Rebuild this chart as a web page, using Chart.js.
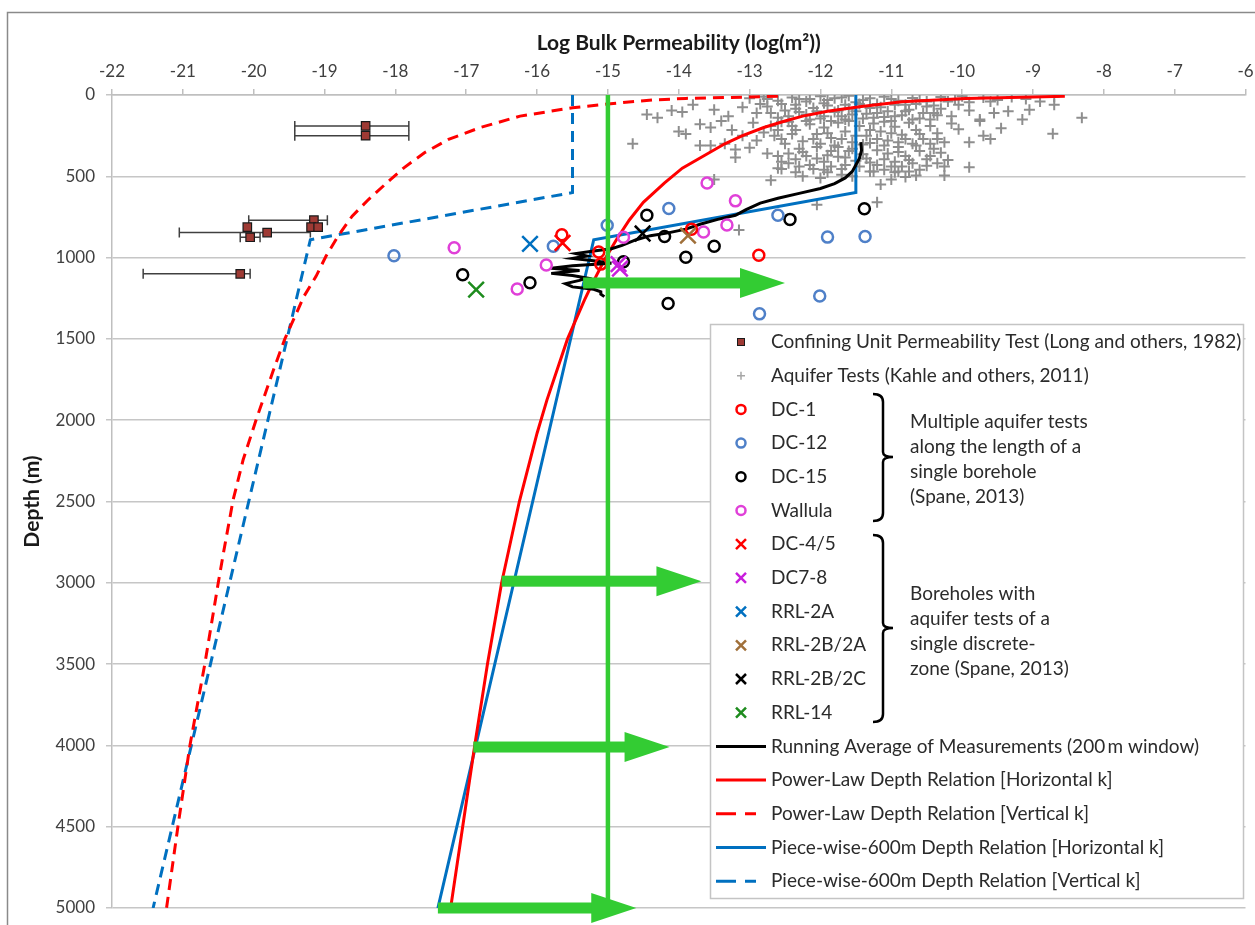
<!DOCTYPE html>
<html>
<head>
<meta charset="utf-8">
<script src="https://cdn.jsdelivr.net/npm/chart.js@4.4.1/dist/chart.umd.min.js"></script>
<style>
  html, body { margin: 0; padding: 0; background: #fff; overflow: hidden; }
  #wrap { width: 1259px; height: 925px; position: relative; }
</style>
</head>
<body>
<div id="wrap"><canvas id="c"></canvas></div>
<script>
// axis ticks
const xTicks = [-22, -21, -20, -19, -18, -17, -16, -15, -14, -13, -12, -11, -10, -9, -8, -7, -6];
const yTicks = [0, 500, 1000, 1500, 2000, 2500, 3000, 3500, 4000, 4500, 5000];

// confining unit tests: log k, depth, error bar range (null = none)
const confiningK     = [-18.42, -18.42, -19.15, -19.19, -19.09, -20.09, -19.81, -20.05, -20.19];
const confiningDepth = [190, 250, 770, 813, 813, 813, 846, 875, 1100];
const confiningLow   = [-19.42, -19.42, -20.07, null, null, null, -21.05, -20.19, -21.56];
const confiningHigh  = [-17.81, -17.81, -18.96, null, null, null, -19.2, -19.91, -20.05];

// aquifer tests (Kahle), [log k, depth]
const aquiferTests = [
  [-13.0,20],[-12.8,10],[-12.6,35],[-12.4,15],[-12.2,40],[-12.0,8],[-11.9,30],[-11.7,15],[-11.5,45],[-11.3,20],
  [-11.1,10],[-10.9,35],[-10.7,18],[-10.5,40],[-10.3,12],[-10.1,28],[-9.9,45],[-9.7,15],[-9.5,30],[-9.3,12],
  [-9.1,25],[-8.9,40],[-8.7,10],[-11.6,5],[-12.3,25],[-10.0,8],[-9.6,40],
  [-14.45,120],[-14.3,140],[-14.1,95],[-13.95,105],[-13.8,60],[-13.5,90],[-13.3,130],[-13.1,75],[-12.9,110],[-12.75,70],
  [-12.6,140],[-12.5,95],[-12.35,60],[-12.2,120],[-12.1,80],[-12.0,145],[-11.9,65],[-11.8,105],[-11.7,130],[-11.6,85],
  [-11.45,55],[-11.35,115],[-11.25,140],[-11.15,75],[-11.05,100],[-10.95,60],[-10.85,125],[-10.75,90],[-10.6,145],[-10.5,70],
  [-10.4,110],[-10.3,85],[-10.15,130],[-10.05,60],[-9.9,95],[-9.75,150],[-9.55,110],[-9.35,100],[-9.15,150],[-9.05,90],
  [-8.7,60],[-8.31,140],[-12.45,130],[-11.55,120],[-11.1,135],[-12.85,55],[-10.65,55],
  [-14.0,225],[-13.9,240],[-13.7,180],[-13.55,200],[-13.4,160],[-13.25,215],[-13.1,250],[-12.95,170],[-12.8,230],[-12.7,190],
  [-12.55,270],[-12.45,165],[-12.35,215],[-12.25,285],[-12.15,180],[-12.05,240],[-11.95,200],[-11.85,265],[-11.75,170],[-11.65,225],
  [-11.55,290],[-11.45,190],[-11.35,250],[-11.25,175],[-11.15,225],[-11.05,280],[-10.95,195],[-10.85,245],[-10.75,170],[-10.65,215],
  [-10.55,270],[-10.45,190],[-10.35,235],[-10.25,290],[-10.15,175],[-10.05,210],[-9.9,290],[-9.75,160],[-9.7,250],[-9.6,270],
  [-9.45,205],[-8.72,238],[-12.9,280],[-11.6,160],[-11.0,160],[-12.2,160],[-10.9,290],[-11.3,295],[-12.6,215],
  [-14.65,300],[-13.7,310],[-13.55,310],[-13.35,300],[-13.2,335],[-13.0,325],[-13.2,385],[-12.75,360],[-12.6,375],[-12.45,360],
  [-12.35,395],[-12.2,375],[-12.05,320],[-11.95,410],[-11.85,345],[-11.75,380],[-11.65,430],[-11.55,330],[-11.4,365],[-11.3,415],
  [-11.2,340],[-11.1,395],[-11.0,440],[-10.9,320],[-10.8,375],[-10.7,420],[-10.6,345],[-10.5,395],[-10.4,330],[-10.3,355],
  [-10.2,400],[-10.25,440],[-10.5,435],[-11.75,320],[-12.15,430],[-11.45,440],[-10.95,410],[-10.65,310],[-11.9,370],[-12.55,410],
  [-12.55,455],[-12.35,475],[-12.1,455],[-11.9,475],[-11.7,455],[-12.7,525],[-13.5,520],[-12.05,675],[-11.2,660],[-11.15,550],
  [-11.3,470],[-10.95,475],[-10.8,505],[-10.65,495],[-10.25,495],[-9.9,445],[-11.0,520],[-10.75,470],[-12.25,500],[-11.55,500],
  [-13.15,830],[-11.1,460],[-12.0,510],
  [-12.75,25],[-12.55,55],[-12.35,85],[-12.15,25],[-11.95,50],[-11.8,20],[-11.65,60],[-11.4,30],[-11.2,55],[-11.0,25],
  [-10.8,60],[-10.6,30],[-10.4,65],[-10.2,40],[-12.7,110],[-12.55,165],[-12.4,190],[-12.3,105],[-12.15,150],[-12.05,100],
  [-11.95,130],[-11.85,160],[-11.75,95],[-11.65,150],[-11.5,100],[-11.4,145],[-11.3,80],[-11.2,110],[-11.1,165],[-10.95,130],
  [-10.8,100],[-10.7,150],[-10.55,110],[-10.45,150],[-10.35,125],[-12.65,250],[-12.5,300],[-12.4,240],[-12.3,330],[-12.1,270],
  [-12.0,300],[-11.9,235],[-11.8,310],[-11.7,270],[-11.6,345],[-11.5,250],[-11.4,305],[-11.3,215],[-11.2,270],[-11.1,310],
  [-11.0,235],[-10.9,350],[-10.8,270],[-10.7,300],[-10.6,240],[-10.45,300],[-10.35,270],[-12.45,420],[-12.3,440],[-12.05,390],
  [-11.85,440],[-11.65,385],[-11.5,405],[-11.35,390],[-11.2,430],[-11.05,360],[-10.85,440],[-10.75,400],[-10.6,460],[-10.45,375],
  [-10.35,420],[-12.25,350],[-11.95,460],[-11.25,470],[-10.9,470],[-11.7,490],[-12.6,450]
];

// Spane (2013) boreholes, [log k, depth]
const dc1     = [[-15.65,860],[-15.13,965],[-15.1,1040],[-13.82,825],[-12.87,985]];
const dc12    = [[-18.02,988],[-15.77,930],[-15.01,801],[-14.14,698],[-12.6,739],[-11.9,874],[-11.37,870],[-12.01,1236],[-12.86,1346]];
const dc15    = [[-17.05,1105],[-16.1,1155],[-14.45,740],[-12.43,765],[-11.38,700],[-13.5,930],[-13.9,998],[-14.15,1282],[-14.78,1025],[-14.2,870]];
const wallula = [[-17.17,940],[-15.87,1045],[-16.28,1193],[-13.6,541],[-13.2,651],[-13.32,800],[-13.65,843],[-14.78,875]];
const dc45    = [[-15.64,910]];
const dc78    = [[-14.85,1040],[-14.83,1068]];
const rrl2a   = [[-16.1,916]];
const rrl2b2a = [[-13.87,865]];
const rrl2b2c = [[-14.51,852]];
const rrl14   = [[-16.86,1197]];

// running average (200 m window)
const runningAvg = [
  [-11.43,290],[-11.42,340],[-11.45,390],[-11.5,430],[-11.55,470],[-11.65,510],[-11.8,545],[-12.0,575],[-12.3,605],[-12.6,635],
  [-12.85,665],[-13.05,705],[-13.2,740],[-13.45,765],[-13.7,795],[-13.9,825],[-14.15,848],[-14.4,865],[-14.6,890],[-14.8,925],
  [-14.95,945],[-15.2,960],[-15.45,975],[-15.3,990],[-15.5,1005],[-15.2,1020],[-14.95,1035],[-15.5,1050],[-15.8,1065],[-15.4,1080],
  [-15.8,1097],[-15.5,1110],[-15.3,1125],[-15.4,1140],[-15.6,1160],[-15.5,1180],[-15.2,1195],[-15.1,1210],[-15.1,1225],[-15.05,1240]
];

// depth relations
const powerLawH = [
  [-8.55,8],[-9.0,12],[-9.95,21],[-10.85,41],[-11.45,72],[-11.9,100],[-12.25,130],[-12.5,160],[-12.8,200],[-13.1,250],
  [-13.35,300],[-13.65,375],[-13.95,450],[-14.2,540],[-14.5,660],[-14.7,770],[-14.88,890],[-15.05,1015],[-15.22,1160],[-15.33,1260],
  [-15.57,1500],[-15.86,1875],[-16.0,2080],[-16.25,2500],[-16.4,2800],[-16.5,3000],[-16.7,3500],[-16.88,4000],[-17.05,4500],[-17.22,5000]
];
const powerLawV = [
  [-12.6,8],[-13.0,12],[-13.9,21],[-14.35,30],[-14.8,47],[-15.5,78],[-16.24,130],[-16.8,200],[-17.25,273],[-17.59,355],
  [-17.88,448],[-18.07,520],[-18.38,643],[-18.61,745],[-18.81,869],[-18.98,992],[-19.12,1115],[-19.29,1238],[-19.56,1500],[-19.72,1690],
  [-19.96,1990],[-20.15,2245],[-20.29,2490],[-20.42,2800],[-20.5,3000],[-20.69,3500],[-20.9,4000],[-21.07,4500],[-21.23,5000]
];
const pieceWiseH = [[-11.5,0],[-11.5,600],[-15.2,890],[-17.4,5000]];
const pieceWiseV = [[-15.5,0],[-15.5,600],[-19.2,890],[-21.42,5000]];

// green guide line and arrows
const guideK = -15;
const arrowDepth = [1156, 2990, 4010, 5000];
const arrowFrom  = [-15.35, -16.5, -16.9, -17.4];
const arrowTo    = [-12.5, -13.68, -14.13, -14.6];

const FONT = 'Lato';
const GREEN = '#33CC33';
const pts = a => a.map(p => ({ x: p[0], y: p[1] }));

function marker(label, data, style, color, order, kind) {
  const ring = style === 'circle';
  return {
    label, data: pts(data), order, legendKind: kind,
    pointStyle: style,
    pointRadius: ring ? 5.5 : 11,
    borderWidth: 2.5,
    borderColor: color,
    backgroundColor: ring ? 'rgba(0,0,0,0)' : color
  };
}
function curve(label, data, color, dash, order) {
  return {
    label, data: pts(data), order, legendKind: 'line',
    showLine: true, pointRadius: 0, borderColor: color, backgroundColor: color,
    borderWidth: 3, borderDash: dash, tension: 0
  };
}

const datasets = [
  {
    label: 'Confining Unit Permeability Test (Long and others, 1982)',
    data: confiningK.map((k, i) => ({ x: k, y: confiningDepth[i] })),
    order: 5, legendKind: 'rect', pointStyle: 'rect', pointRadius: 6,
    backgroundColor: '#9E3A34', borderColor: '#1a1a1a', borderWidth: 1.2
  },
  {
    label: 'Aquifer Tests (Kahle and others, 2011)', data: pts(aquiferTests),
    order: 9, legendKind: 'plus', pointStyle: 'cross', pointRadius: 5.5,
    borderColor: '#8E8E8E', backgroundColor: '#8E8E8E', borderWidth: 2
  },
  marker('DC-1', dc1, 'circle', '#FF0000', 3, 'circle'),
  marker('DC-12', dc12, 'circle', '#4F80C8', 3, 'circle'),
  marker('DC-15', dc15, 'circle', '#000000', 3, 'circle'),
  marker('Wallula', wallula, 'circle', '#E040D8', 3, 'circle'),
  marker('DC-4/5', dc45, 'crossRot', '#FF0000', 2, 'x'),
  marker('DC7-8', dc78, 'crossRot', '#C81EDC', 2, 'x'),
  marker('RRL-2A', rrl2a, 'crossRot', '#0070C0', 2, 'x'),
  marker('RRL-2B/2A', rrl2b2a, 'crossRot', '#A0703A', 2, 'x'),
  marker('RRL-2B/2C', rrl2b2c, 'crossRot', '#000000', 2, 'x'),
  marker('RRL-14', rrl14, 'crossRot', '#1E8C1E', 2, 'x'),
  curve('Running Average of Measurements (200\u2009m window)', runningAvg, '#000000', [], 6),
  curve('Power-Law Depth Relation [Horizontal k]', powerLawH, '#FF0000', [], 7),
  curve('Power-Law Depth Relation [Vertical k]', powerLawV, '#FF0000', [11, 7], 8),
  curve('Piece-wise-600m Depth Relation [Horizontal k]', pieceWiseH, '#0070C0', [], 7),
  curve('Piece-wise-600m Depth Relation [Vertical k]', pieceWiseV, '#0070C0', [11, 7], 8),
  {
    label: 'guide', data: [{ x: guideK, y: 0 }, { x: guideK, y: 5000 }], order: 1,
    showLine: true, pointRadius: 0, borderColor: GREEN, borderWidth: 4.5
  }
];

// outer frame
const framePlugin = {
  id: 'frame',
  beforeDraw(chart) {
    const ctx = chart.ctx;
    ctx.save();
    ctx.strokeStyle = '#8a8a8a';
    ctx.lineWidth = 1.5;
    ctx.strokeRect(7.5, 12.5, 1270, 930);
    ctx.restore();
  }
};

// horizontal error bars on confining unit tests
const errorBarPlugin = {
  id: 'errorBars',
  beforeDatasetsDraw(chart) {
    const { ctx, scales: { x, y } } = chart;
    ctx.save();
    ctx.strokeStyle = '#404040';
    ctx.lineWidth = 1.5;
    confiningK.forEach((k, i) => {
      if (confiningLow[i] === null) return;
      const py = y.getPixelForValue(confiningDepth[i]);
      const x0 = x.getPixelForValue(confiningLow[i]);
      const x1 = x.getPixelForValue(confiningHigh[i]);
      ctx.beginPath();
      ctx.moveTo(x0, py); ctx.lineTo(x1, py);
      ctx.moveTo(x0, py - 5); ctx.lineTo(x0, py + 5);
      ctx.moveTo(x1, py - 5); ctx.lineTo(x1, py + 5);
      ctx.stroke();
    });
    ctx.restore();
  }
};

// green arrows
const arrowPlugin = {
  id: 'arrows',
  afterDatasetsDraw(chart) {
    const { ctx, scales: { x, y } } = chart;
    ctx.save();
    ctx.fillStyle = GREEN;
    arrowDepth.forEach((d, i) => {
      const py = y.getPixelForValue(d);
      const x0 = x.getPixelForValue(arrowFrom[i]);
      const x1 = x.getPixelForValue(arrowTo[i]);
      const head = 45;
      ctx.fillRect(x0, py - 5.5, x1 - head - x0 + 1, 11);
      ctx.beginPath();
      ctx.moveTo(x1 - head, py - 15);
      ctx.lineTo(x1, py);
      ctx.lineTo(x1 - head, py + 15);
      ctx.closePath();
      ctx.fill();
    });
    ctx.restore();
  }
};

function drawKey(ctx, ds, cx, cy) {
  ctx.save();
  ctx.strokeStyle = ds.borderColor;
  ctx.fillStyle = ds.backgroundColor;
  switch (ds.legendKind) {
    case 'rect':
      ctx.fillRect(cx - 3.5, cy - 3.5, 7, 7);
      ctx.lineWidth = 1; ctx.strokeRect(cx - 3.5, cy - 3.5, 7, 7);
      break;
    case 'plus':
      ctx.strokeStyle = '#A6A6A6'; ctx.lineWidth = 1.5;
      ctx.beginPath(); ctx.moveTo(cx - 4, cy); ctx.lineTo(cx + 4, cy);
      ctx.moveTo(cx, cy - 4); ctx.lineTo(cx, cy + 4); ctx.stroke();
      break;
    case 'circle':
      ctx.lineWidth = 2.5;
      ctx.beginPath(); ctx.arc(cx, cy, 4.5, 0, Math.PI * 2); ctx.stroke();
      break;
    case 'x':
      ctx.lineWidth = 2.5;
      ctx.beginPath(); ctx.moveTo(cx - 5, cy - 5); ctx.lineTo(cx + 5, cy + 5);
      ctx.moveTo(cx + 5, cy - 5); ctx.lineTo(cx - 5, cy + 5); ctx.stroke();
      break;
    case 'line':
      ctx.lineWidth = 3;
      if (ds.borderDash && ds.borderDash.length) {
        ctx.setLineDash([20, 9]);
        ctx.beginPath(); ctx.moveTo(716, cy); ctx.lineTo(756, cy); ctx.stroke();
      } else {
        ctx.beginPath(); ctx.moveTo(716, cy); ctx.lineTo(766, cy); ctx.stroke();
      }
      break;
  }
  ctx.restore();
}

function drawBrace(ctx, top, bottom, tip) {
  const x0 = 873, xm = 883, xt = 893;
  ctx.beginPath();
  ctx.moveTo(x0, top);
  ctx.quadraticCurveTo(xm, top, xm, top + 8);
  ctx.lineTo(xm, tip - 5);
  ctx.quadraticCurveTo(xm, tip, xt, tip);
  ctx.quadraticCurveTo(xm, tip, xm, tip + 5);
  ctx.lineTo(xm, bottom - 8);
  ctx.quadraticCurveTo(xm, bottom, x0, bottom);
  ctx.stroke();
}

const noteSingle = ['Multiple aquifer tests', 'along the length of a', 'single borehole', '(Spane, 2013)'];
const noteDiscrete = ['Boreholes with', 'aquifer tests of a', 'single discrete-', 'zone (Spane, 2013)'];

const legendPlugin = {
  id: 'sideLegend',
  afterDraw(chart) {
    const ctx = chart.ctx;
    const L = 710, T = 324, R = 1243, B = 898;
    ctx.save();
    ctx.fillStyle = '#fff';
    ctx.fillRect(L, T, R - L, B - T);
    ctx.strokeStyle = '#c4c4c4';
    ctx.lineWidth = 1.5;
    ctx.strokeRect(L + 0.5, T + 0.5, R - L, B - T);
    ctx.font = '19px ' + FONT;
    ctx.textBaseline = 'middle';
    ctx.textAlign = 'left';
    let row = 0;
    chart.data.datasets.forEach(ds => {
      if (!ds.legendKind) return;
      const cy = 342 + row * 33.7;
      drawKey(ctx, ds, 741, cy);
      ctx.fillStyle = '#2b2b2b';
      ctx.fillText(ds.label, 771, cy);
      row++;
    });
    ctx.strokeStyle = '#000';
    ctx.lineWidth = 2.5;
    drawBrace(ctx, 394, 521, 457);
    drawBrace(ctx, 535, 722, 628);
    ctx.fillStyle = '#2b2b2b';
    noteSingle.forEach((t, i) => ctx.fillText(t, 910, 422 + i * 25));
    noteDiscrete.forEach((t, i) => ctx.fillText(t, 910, 594 + i * 25));
    ctx.restore();
  }
};

new Chart(document.getElementById('c'), {
  type: 'scatter',
  data: { datasets },
  options: {
    responsive: true,
    maintainAspectRatio: false,
    animation: false,
    events: [],
    layout: { padding: { left: 0, top: 0, right: 8, bottom: 17 } },
    plugins: { legend: { display: false }, tooltip: { enabled: false } },
    scales: {
      x: {
        type: 'linear', position: 'top', min: -22, max: -6,
        afterBuildTicks: s => { s.ticks = xTicks.map(v => ({ value: v })); },
        afterFit: s => { s.height = 95; s.paddingLeft = 0; s.paddingRight = 0; },
        grid: { drawOnChartArea: false, drawTicks: true, tickLength: 6, color: '#bfbfbf', lineWidth: 1.5 },
        border: { display: true, color: '#bfbfbf', width: 1.5 },
        ticks: { font: { size: 17, family: FONT }, color: '#404040', padding: 7, maxRotation: 0, autoSkip: false, callback: v => String(v) },
        title: { display: true, text: 'Log Bulk Permeability (log(m²))', font: { size: 21, weight: 'bold', family: FONT }, color: '#1a1a1a', padding: { top: 31, bottom: 0 } }
      },
      y: {
        type: 'linear', reverse: true, min: 0, max: 5000,
        afterBuildTicks: s => { s.ticks = yTicks.map(v => ({ value: v })); },
        afterFit: s => { s.width = 112; s.paddingTop = 0; s.paddingBottom = 0; },
        grid: { color: '#c6c6c6', lineWidth: 1.5, tickLength: 6, drawTicks: true },
        border: { display: true, color: '#bfbfbf', width: 1.5 },
        ticks: { font: { size: 17, family: FONT }, color: '#404040', padding: 11, autoSkip: false, callback: v => String(v) },
        title: { display: true, text: 'Depth (m)', font: { size: 21, weight: 'bold', family: FONT }, color: '#1a1a1a', padding: { top: 20, bottom: 0 } }
      }
    }
  },
  plugins: [framePlugin, errorBarPlugin, arrowPlugin, legendPlugin]
});
</script>
</body>
</html>
